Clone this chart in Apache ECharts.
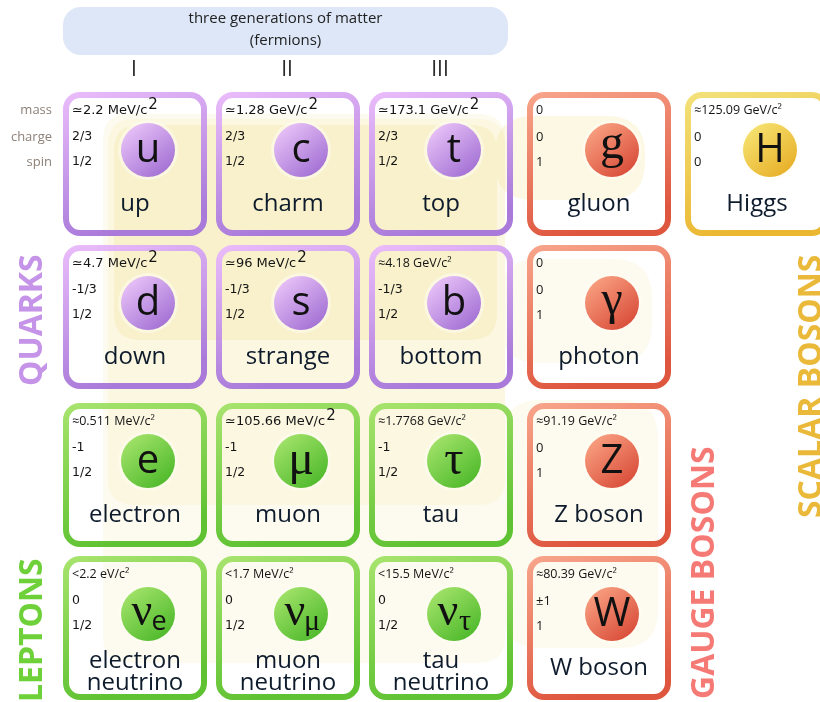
<!DOCTYPE html>
<html>
<head>
<meta charset="utf-8">
<script src="https://cdn.jsdelivr.net/npm/echarts@6/dist/echarts.min.js"></script>
<style>
html,body{margin:0;padding:0;background:#ffffff;}
#chart{width:820px;height:702px;}
</style>
</head>
<body>
<div id="chart"></div>
<script>
// ---------------- data ----------------
const headerLines = ['three generations of matter', '(fermions)'];
const generationLabels = ['I', 'II', 'III'];
const propertyLabels = ['mass', 'charge', 'spin'];
const groupLabels = ['QUARKS', 'LEPTONS', 'GAUGE BOSONS', 'SCALAR BOSONS'];
const interactionNames = ['weak', 'electromagnetic', 'strong'];
const interactionFermionLastRow = [3, 2, 1];
const interactionBosonRows = [[2, 3], [1, 1], [0, 0]];

const particleSymbols = ['u', 'c', 't', 'g', 'H', 'd', 's', 'b', 'γ', 'e', 'μ', 'τ', 'Z', 'νe', 'νμ', 'ντ', 'W'];
const particleNames = ['up', 'charm', 'top', 'gluon', 'Higgs', 'down', 'strange', 'bottom', 'photon',
  'electron', 'muon', 'tau', 'Z boson', 'electron\nneutrino', 'muon\nneutrino', 'tau\nneutrino', 'W boson'];
const particleMasses = ['≃2.2 MeV/c²', '≃1.28 GeV/c²', '≃173.1 GeV/c²', '0', '≈125.09 GeV/c²',
  '≃4.7 MeV/c²', '≃96 MeV/c²', '≈4.18 GeV/c²', '0',
  '≈0.511 MeV/c²', '≃105.66 MeV/c²', '≈1.7768 GeV/c²', '≈91.19 GeV/c²',
  '<2.2 eV/c²', '<1.7 MeV/c²', '<15.5 MeV/c²', '≈80.39 GeV/c²'];
const particleCharges = ['2/3', '2/3', '2/3', '0', '0', '-1/3', '-1/3', '-1/3', '0', '-1', '-1', '-1', '0', '0', '0', '0', '±1'];
const particleSpins = ['1/2', '1/2', '1/2', '1', '0', '1/2', '1/2', '1/2', '1', '1/2', '1/2', '1/2', '1', '1/2', '1/2', '1/2', '1'];
const particleColumns = [0, 1, 2, 3, 4, 0, 1, 2, 3, 0, 1, 2, 3, 0, 1, 2, 3];
const particleRows = [0, 0, 0, 0, 0, 1, 1, 1, 1, 2, 2, 2, 2, 3, 3, 3, 3];
const particleFamilies = ['quark', 'quark', 'quark', 'gauge', 'scalar', 'quark', 'quark', 'quark', 'gauge',
  'lepton', 'lepton', 'lepton', 'gauge', 'lepton', 'lepton', 'lepton', 'gauge'];

// ---------------- styles ----------------
const palette = {
  quark:  { border: ['#ebbdfb', '#a97ad9'], circle: ['#f2cdfc', '#a06ed3'], label: '#c593e8' },
  lepton: { border: ['#a8e46f', '#5fc232'], circle: ['#ade872', '#4cb829'], label: '#6fd13a' },
  gauge:  { border: ['#f8a68c', '#df563f'], circle: ['#fdab8a', '#d84a37'], label: '#f57a76' },
  scalar: { border: ['#f3e27a', '#ebb731'], circle: ['#f8e97a', '#e7ae27'], label: '#ebb93a' }
};
const groupFamilies = ['quark', 'lepton', 'gauge', 'scalar'];
const SERIF = '"Liberation Serif", "DejaVu Serif", serif';
const SANS = '"Open Sans", "Noto Sans", sans-serif';
const DEJAVU = '"DejaVu Sans", sans-serif';
const NAME_COLOR = '#0e1b2c';
const TEXT_COLOR = '#141414';

const measureCtx = document.createElement('canvas').getContext('2d');
function textWidth(t, font) { measureCtx.font = font; return measureCtx.measureText(t).width; }

function grad(c0, c1, x2, y2) {
  return { type: 'linear', x: 0, y: 0, x2: x2, y2: y2, colorStops: [{ offset: 0, color: c0 }, { offset: 1, color: c1 }] };
}
function txt(x, y, text, font, fill, align, vAlign, extra) {
  const el = { type: 'text', x: x, y: y, style: { text: text, font: font, fill: fill, align: align || 'left', verticalAlign: vAlign || 'middle' } };
  if (extra) Object.assign(el.style, extra);
  return el;
}
function cellBox(api, c, r) {
  const p = api.coord([c, r]);
  const s = api.size([1, 1]);
  const extraX = c >= 3 ? 5 * (c - 2) : 0;
  const extraY = r >= 2 ? 5 : 0;
  return { x: p[0] + extraX, y: p[1] + extraY, w: s[0] - 9, h: s[1] - 9 };
}
function rr(x, y, w, h, r) {
  return 'M' + (x + r) + ' ' + y + 'L' + (x + w - r) + ' ' + y + 'Q' + (x + w) + ' ' + y + ' ' + (x + w) + ' ' + (y + r) +
    'L' + (x + w) + ' ' + (y + h - r) + 'Q' + (x + w) + ' ' + (y + h) + ' ' + (x + w - r) + ' ' + (y + h) +
    'L' + (x + r) + ' ' + (y + h) + 'Q' + x + ' ' + (y + h) + ' ' + x + ' ' + (y + h - r) +
    'L' + x + ' ' + (y + r) + 'Q' + x + ' ' + y + ' ' + (x + r) + ' ' + y + 'Z';
}

// ---------------- render functions ----------------
function renderRegion(params, api) {
  const k = params.dataIndex;
  const insets = [0, 5, 11];
  const bottoms = [107, 102, 95];
  const rights = [136, 136, 128];
  const alphas = [0.12, 0.11, 0.2];
  const first = cellBox(api, 0, 0);
  const last = cellBox(api, 0, interactionFermionLastRow[k]);
  const right = cellBox(api, 2, 0);
  const x0 = first.x + 40 + insets[k];
  const y0 = first.y + 22 + insets[k];
  const x1 = right.x + rights[k];
  const y1 = last.y + bottoms[k];
  let d = rr(x0, y0, x1 - x0, y1 - y0, 26);
  const b0 = cellBox(api, 3, interactionBosonRows[k][0]);
  const b1 = cellBox(api, 3, interactionBosonRows[k][1]);
  const lobe = [
    { l: -25, t: -3, r: 131, b: 92 },
    { l: -27, t: 14, r: 125, b: 118 },
    { l: -32, t: 24, r: 118, b: 108 }
  ][k];
  const lx0 = b0.x + lobe.l, ly0 = b0.y + lobe.t, lx1 = b1.x + lobe.r, ly1 = b1.y + lobe.b;
  d += rr(lx0, ly0, lx1 - lx0, ly1 - ly0, 38);
  return { type: 'path', shape: { pathData: d }, style: { fill: 'rgba(238,218,120,' + alphas[k] + ')' } };
}

function renderParticle(params, api) {
  const i = params.dataIndex;
  const cell = cellBox(api, api.value(0), api.value(1));
  const pal = palette[particleFamilies[i]];
  const ch = [];
  ch.push({ type: 'rect', shape: { x: cell.x + 3, y: cell.y + 3, width: cell.w - 6, height: cell.h - 6, r: 14 },
    style: { fill: 'rgba(255,255,255,0)', stroke: grad(pal.border[0], pal.border[1], 0.3, 1), lineWidth: 6 } });
  const cx = cell.x + 85, cy = cell.y + 58;
  ch.push({ type: 'circle', shape: { cx: cx, cy: cy, r: 30 }, style: { fill: 'rgba(255,254,244,0.5)' } });
  ch.push({ type: 'circle', shape: { cx: cx, cy: cy, r: 27 }, style: { fill: grad(pal.circle[0], pal.circle[1], 0.8, 1) } });
  const sym = particleSymbols[i];
  const isSerif = 'gγμτν'.indexOf(sym[0]) >= 0;
  if (sym.length > 1) {
    ch.push(txt(cx - 6, cy - 1, sym[0], '46px ' + SERIF, '#111', 'center', 'middle'));
    ch.push(txt(cx + 11, cy + 8, sym.slice(1), (sym[1] === 'e' ? '27px ' + SANS : '30px ' + SERIF), '#111', 'center', 'middle'));
  } else if (isSerif) {
    ch.push(txt(cx, cy - (sym === 'g' ? 5 : (sym === 'γ' ? 2 : 0)), sym, '48px ' + SERIF, '#111', 'center', 'middle'));
  } else {
    ch.push(txt(cx, cy + 1, sym, '40px ' + SANS, '#111', 'center', 'middle'));
  }
  // properties
  const mass = particleMasses[i];
  const tx = cell.x + 9;
  if (mass[0] === '≃') {
    const base = mass.slice(0, -1);
    const f = '13px ' + DEJAVU;
    ch.push(txt(tx, cell.y + 19, base, f, TEXT_COLOR, 'left', 'middle'));
    ch.push(txt(tx + textWidth(base, f) + 1, cell.y + 13, '2', '15px ' + DEJAVU, TEXT_COLOR, 'left', 'middle'));
  } else {
    ch.push(txt(tx, cell.y + 18, mass, '12.5px ' + SANS, TEXT_COLOR, 'left', 'middle'));
  }
  const fam = particleFamilies[i];
  const pf = (fam === 'quark' || fam === 'lepton') ? '12.5px ' + DEJAVU : '13px ' + SANS;
  ch.push(txt(tx, cell.y + 45, particleCharges[i], pf, TEXT_COLOR, 'left', 'middle'));
  ch.push(txt(tx, cell.y + 70, particleSpins[i], pf, TEXT_COLOR, 'left', 'middle'));
  const name = particleNames[i];
  const twoLines = name.indexOf('\n') >= 0;
  ch.push(txt(cell.x + 72, cell.y + (twoLines ? 116 : 112), name, '24px ' + SANS, NAME_COLOR, 'center', 'middle', { lineHeight: 22 }));
  return { type: 'group', children: ch };
}

function renderHeader(params, api) {
  const a = cellBox(api, 0, 0), b = cellBox(api, 2, 0);
  const x0 = a.x, x1 = b.x + b.w - 5;
  return { type: 'group', children: [
    { type: 'rect', shape: { x: x0, y: a.y - 85, width: x1 - x0, height: 48, r: 18 }, style: { fill: '#dde7f8' } },
    txt((x0 + x1) / 2, a.y - 73, headerLines[0], '15px ' + SANS, '#222', 'center', 'middle'),
    txt((x0 + x1) / 2, a.y - 51, headerLines[1], '15px ' + SANS, '#222', 'center', 'middle')
  ] };
}

function renderGeneration(params, api) {
  const c = cellBox(api, api.value(0), 0);
  return txt(c.x + 71, c.y - 22, generationLabels[params.dataIndex], '21px "Open Sans", sans-serif', '#2a2a2a', 'center', 'middle');
}

function renderProperty(params, api) {
  const c = cellBox(api, 0, 0);
  const offs = [18, 45, 70];
  return txt(c.x - 11, c.y + offs[params.dataIndex], propertyLabels[params.dataIndex], '13px ' + SANS, '#8c8078', 'right', 'middle');
}

function renderGroup(params, api) {
  const k = params.dataIndex;
  let x, y;
  if (k === 0) { const c = cellBox(api, 0, 1); x = c.x - 30; y = c.y + 141; }
  else if (k === 1) { const c = cellBox(api, 0, 3); x = c.x - 30; y = c.y + 146; }
  else if (k === 2) { const c = cellBox(api, 3, 3); x = c.x + c.w + 34; y = c.y + 143; }
  else { const c = cellBox(api, 4, 2); x = c.x + 127; y = c.y + 115; }
  const el = txt(0, 0, groupLabels[k], 'bold 32px ' + SANS, palette[groupFamilies[k]].label, 'left', 'middle');
  el.x = x; el.y = y; el.rotation = Math.PI / 2;
  return el;
}

// ---------------- chart ----------------
const chart = echarts.init(document.getElementById('chart'), null, { renderer: 'canvas' });
chart.setOption({
  animation: false,
  backgroundColor: '#ffffff',
  grid: { left: 63, top: 92, width: 153 * 4.8, height: 153 * 3.9, outerBoundsMode: 'none' },
  xAxis: { type: 'value', min: 0, max: 4.8, show: false },
  yAxis: { type: 'value', min: 0, max: 3.9, inverse: true, show: false },
  series: [
    { type: 'custom', name: 'interactions', silent: true, z: 1, clip: false, renderItem: renderRegion,
      data: interactionNames.map(function (n, k) { return [0, 0, k]; }) },
    { type: 'custom', name: 'particles', silent: true, z: 3, clip: false, renderItem: renderParticle,
      data: particleSymbols.map(function (s, i) { return [particleColumns[i], particleRows[i]]; }) },
    { type: 'custom', name: 'header', silent: true, z: 3, clip: false, renderItem: renderHeader, data: [[0, 0]] },
    { type: 'custom', name: 'generations', silent: true, z: 3, clip: false, renderItem: renderGeneration,
      data: generationLabels.map(function (g, i) { return [i, 0]; }) },
    { type: 'custom', name: 'properties', silent: true, z: 3, clip: false, renderItem: renderProperty,
      data: propertyLabels.map(function (p, i) { return [0, i]; }) },
    { type: 'custom', name: 'groups', silent: true, z: 3, clip: false, renderItem: renderGroup,
      data: groupLabels.map(function (g, i) { return [0, 0]; }) }
  ]
});
</script>
</body>
</html>
